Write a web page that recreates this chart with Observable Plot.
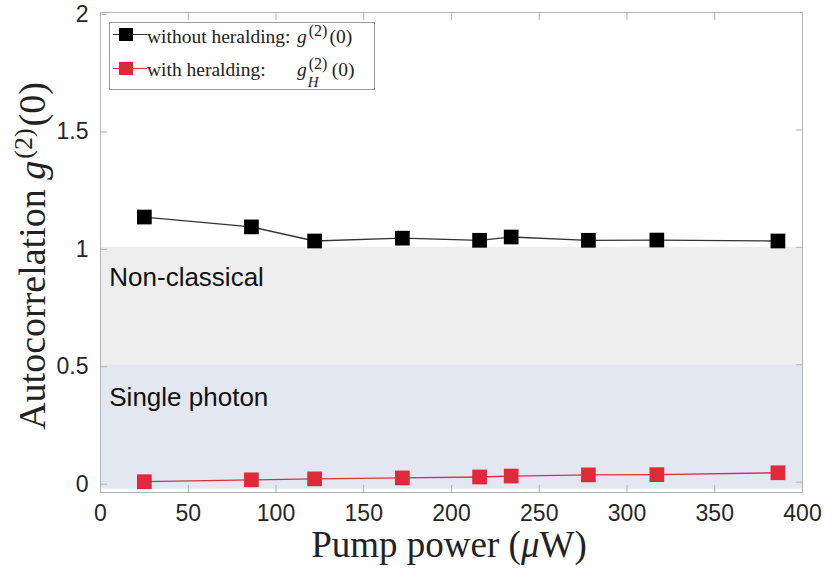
<!DOCTYPE html>
<html><head><meta charset="utf-8">
<script src="https://cdn.jsdelivr.net/npm/d3@7"></script>
<script src="https://cdn.jsdelivr.net/npm/@observablehq/plot@0.6"></script>
<style>
body{margin:0;background:#fff;}
#wrap{position:relative;width:825px;height:571px;overflow:hidden;background:#fff;}
#wrap svg{position:absolute;left:0;top:0;}
.serif{font-family:"Liberation Serif","Times New Roman",serif;color:#222;white-space:nowrap;}
#ylab{position:absolute;left:34px;top:256px;transform:translate(-50%,-50%) rotate(-90deg);font-size:38px;line-height:38px;}
#xlab{position:absolute;left:449px;top:526px;transform:translateX(-50%);font-size:37px;line-height:37px;}
#legend{position:absolute;left:109px;top:22px;width:266px;height:68px;border:1px solid #9a9a9a;background:#fff;box-sizing:border-box;font-size:19.5px;}
.t{position:absolute;line-height:19.5px;}
.samp{position:absolute;left:3px;width:34px;height:1px;}
.mk{position:absolute;left:9px;width:14px;height:13px;}
.sup{font-size:16px;position:relative;top:-7px;margin-left:2px;margin-right:2px;}
.ss{display:inline-block;position:relative;width:25px;height:0px;}
.ss .a{position:absolute;left:2px;top:-20px;font-size:16px;line-height:16px;}
.ss .b{position:absolute;left:1px;top:-1px;font-size:15px;line-height:15px;}
</style></head><body><div id="wrap"></div>
<script>
// data
const pumpPower = [25, 86, 122, 172, 216, 234, 278, 317, 386];
const g2WithoutHerald = [1.129, 1.087, 1.027, 1.039, 1.030, 1.044, 1.030, 1.031, 1.027];
const g2WithHerald = [0.002, 0.010, 0.014, 0.018, 0.022, 0.026, 0.031, 0.032, 0.040];
const xTicks = [0, 50, 100, 150, 200, 250, 300, 350, 400];
const yTicks = [0, 0.5, 1, 1.5, 2];
const yTickLabels = ["0", "0.5", "1", "1.5", "2"];
const regionNames = ["Non-classical", "Single photon"];
const regionLow = [0.5, -0.03];
const regionHigh = [1, 0.5];
const regionLabelX = [5, 5];
const regionLabelY = [0.87, 0.361];

const withoutRows = pumpPower.map((x, i) => ({x, y: g2WithoutHerald[i]}));
const withRows = pumpPower.map((x, i) => ({x, y: g2WithHerald[i]}));
const regions = regionNames.map((name, i) => ({name, lo: regionLow[i], hi: regionHigh[i], lx: regionLabelX[i], ly: regionLabelY[i]}));

const axisGray = "#b3b3b3";
const chart = Plot.plot({
  width: 825, height: 571,
  marginLeft: 100, marginRight: 23, marginTop: 12, marginBottom: 79,
  x: {domain: [0, 400]},
  y: {domain: [-0.044, 2]},
  color: {domain: regionNames, range: ["#eeeeee", "#e2e7f2"]},
  style: {fontFamily: "'Liberation Sans', Arial, sans-serif", fontSize: "23px", color: "#262626", background: "white"},
  marks: [
    Plot.rect(regions, {y1: "lo", y2: "hi", fill: "name"}),
    Plot.text(regions, {x: "lx", y: "ly", text: "name", textAnchor: "start", lineAnchor: "middle", fontSize: 26, fill: "#111"}),
    Plot.axisX(xTicks, {anchor: "bottom", tickSize: -7, tickPadding: 19, stroke: axisGray, fill: "#262626", label: null, tickFormat: d => String(d)}),
    Plot.axisX(xTicks, {anchor: "top", tickSize: -7, stroke: axisGray, label: null, tickFormat: () => ""}),
    Plot.axisY(yTicks, {anchor: "left", tickSize: -7, tickPadding: 19, dy: 2, stroke: axisGray, fill: "#262626", label: null, tickFormat: d => yTickLabels[yTicks.indexOf(d)]}),
    Plot.axisY(yTicks, {anchor: "right", tickSize: -7, stroke: axisGray, label: null, tickFormat: () => ""}),
    Plot.frame({stroke: axisGray}),
    Plot.line(withoutRows, {x: "x", y: "y", stroke: "#333", strokeWidth: 1.3}),
    Plot.dot(withoutRows, {x: "x", y: "y", symbol: "square", r: 8.3, fill: "#000"}),
    Plot.line(withRows, {x: "x", y: "y", stroke: "#d8323e", strokeWidth: 1.3}),
    Plot.dot(withRows, {x: "x", y: "y", symbol: "square", r: 8.3, fill: "#e02a3a"})
  ]
});
const wrap = document.getElementById("wrap");
wrap.appendChild(chart);

const ylab = document.createElement("div");
ylab.id = "ylab"; ylab.className = "serif";
ylab.innerHTML = 'Autocorrelation <i>g</i><span class="sup" style="font-size:26px;top:-13px;">(2)</span>(0)';
wrap.appendChild(ylab);

const xlab = document.createElement("div");
xlab.id = "xlab"; xlab.className = "serif";
xlab.innerHTML = 'Pump power (<i>μ</i>W)';
wrap.appendChild(xlab);

const legend = document.createElement("div");
legend.id = "legend"; legend.className = "serif";
legend.innerHTML =
  '<div class="samp" style="top:11px;background:#333"></div><div class="mk" style="top:5px;background:#000"></div>' +
  '<div class="t" style="left:37px;top:4px">without heralding:</div>' +
  '<div class="t" style="left:187px;top:4px"><i>g</i><span class="sup">(2)</span>(0)</div>' +
  '<div class="samp" style="top:45px;background:#d8323e"></div><div class="mk" style="top:39px;background:#e02a3a"></div>' +
  '<div class="t" style="left:37px;top:37px">with heralding:</div>' +
  '<div class="t" style="left:187px;top:37px"><i>g</i><span class="ss"><span class="a">(2)</span><span class="b"><i>H</i></span></span>(0)</div>';
wrap.appendChild(legend);
</script>
</body></html>
